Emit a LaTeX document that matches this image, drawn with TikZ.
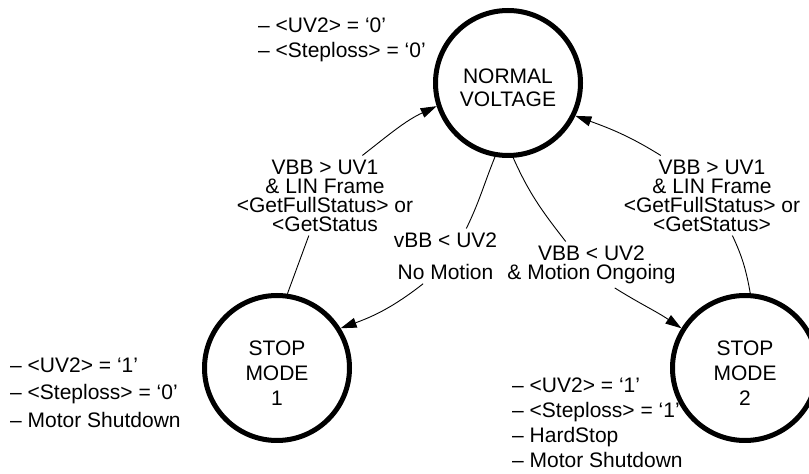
\documentclass[tikz,border=0pt]{standalone}
\usepackage{fontspec}
\setmainfont{Liberation Sans}
\usetikzlibrary{arrows.meta}
\newcommand{\lowerstrut}{\rule{0pt}{25pt}}
\begin{document}
\begin{tikzpicture}[x=1pt,y=1pt,
  state/.style={circle, draw, line width=5pt, minimum size=145pt, inner sep=0pt, align=center, font=\fontsize{21}{25}\selectfont},
  cond/.style={align=center, inner sep=4pt, font=\fontsize{21}{19}\selectfont},
  note/.style={align=left, inner sep=0pt, anchor=north west, font=\fontsize{21}{25}\selectfont},
  edge/.style={line width=0.9pt},
  arr/.style={edge, -{Triangle[length=16pt,width=10pt]}}]
\useasboundingbox (0,0) rectangle (809,474);
% states
\node[state, font=\fontsize{21}{23}\selectfont] (nv) at (508,391) {\lowerstrut NORMAL\\VOLTAGE};
\node[state] (s1) at (277,106) {\lowerstrut STOP\\MODE\\1};
\node[state] (s2) at (745,106) {\lowerstrut STOP\\MODE\\2};
% transition labels
\node[cond, anchor=north] (lblL) at (325,318.5) {VBB > UV1\\\& LIN Frame\\<GetFullStatus> or\\<GetStatus};
\node[cond, anchor=north] (lblR) at (712,318.5) {VBB > UV1\\\& LIN Frame\\<GetFullStatus> or\\<GetStatus>};
\node[cond, anchor=north, font=\fontsize{21}{32}\selectfont] (lblM1) at (445.5,245.5) {vBB < UV2\\No Motion};
\node[cond, anchor=north] (lblM2) at (591.5,232.5) {VBB < UV2\\\& Motion Ongoing};
% notes
\node[note] (n0) at (258,456.5) {– <UV2> = ‘0’\\– <Steploss> = ‘0’};
\node[note, font=\fontsize{21}{27.5}\selectfont] (n1) at (10,116.5) {– <UV2> = ‘1’\\– <Steploss> = ‘0’\\– Motor Shutdown};
\node[note] (n2) at (512,96.5) {– <UV2> = ‘1’\\– <Steploss> = ‘1’\\– HardStop\\– Motor Shutdown};
% connectors
\draw[edge] (s1.82) -- (lblL.-112);
\draw[arr] (lblL.47) to[out=38,in=205] (nv.198);
\draw[edge] (s2.86) to[out=100,in=-65] (lblR.-63);
\draw[arr] (lblR.142) to[out=148,in=-20] (nv.-26);
\draw[edge] (nv.260) to[out=248,in=64] (lblM1.53);
\draw[arr] (lblM1.231) to[out=218,in=20] (s1.32);
\draw[edge] (nv.274) to[out=-66,in=128] (lblM2.138);
\draw[arr] (lblM2.-45) to[out=-32,in=146] (s2.148);
\end{tikzpicture}
\end{document}
